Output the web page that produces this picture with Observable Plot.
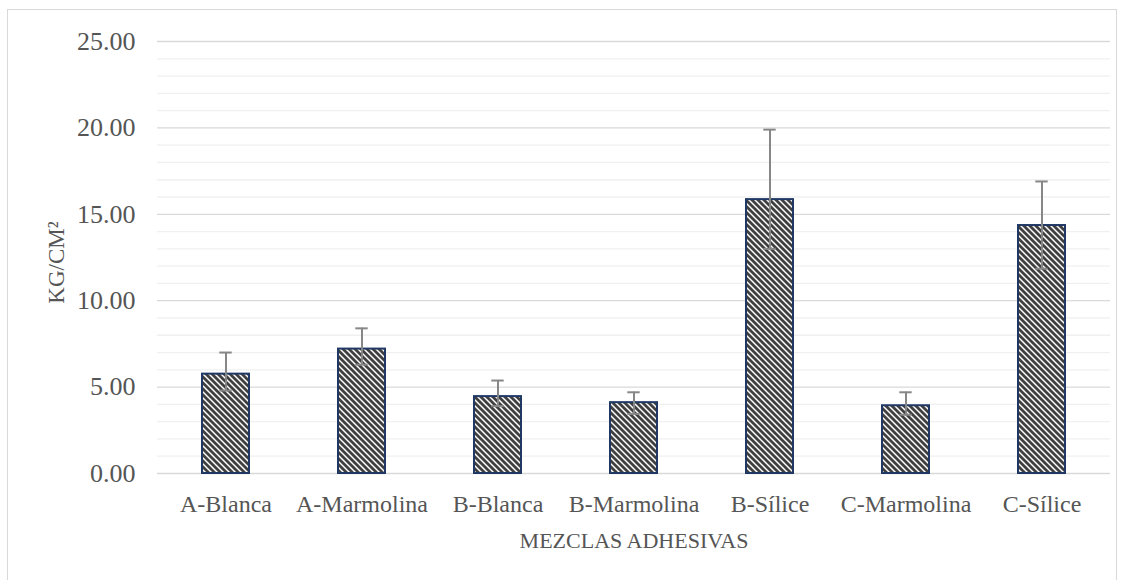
<!DOCTYPE html>
<html>
<head>
<meta charset="utf-8">
<script src="https://cdn.jsdelivr.net/npm/d3@7"></script>
<script src="https://cdn.jsdelivr.net/npm/@observablehq/plot@0.6"></script>
<style>
  html, body { margin: 0; padding: 0; background: #fff; overflow: hidden; }
  #wrap { position: relative; width: 1125px; height: 580px; }
  #border { position: absolute; left: 7px; top: 9px; width: 1110px; height: 600px; border: 1.5px solid #d9d9d9; box-sizing: border-box; pointer-events: none; }
  #chart { position: absolute; left: 0; top: 0; }
</style>
</head>
<body>
<div id="wrap"><div id="border"></div><div id="chart"></div></div>
<script>
const categories = ["A-Blanca", "A-Marmolina", "B-Blanca", "B-Marmolina", "B-Sílice", "C-Marmolina", "C-Sílice"];
const means = [5.75, 7.2, 4.45, 4.1, 15.85, 3.92, 14.35];
const lows  = [4.8, 6.3, 3.9, 3.45, 13.0, 3.4, 11.85];
const highs = [7.0, 8.4, 5.38, 4.7, 19.9, 4.7, 16.9];
const yTicks = [0, 5, 10, 15, 20, 25];
const yMinor = [1, 2, 3, 4, 6, 7, 8, 9, 11, 12, 13, 14, 16, 17, 18, 19, 21, 22, 23, 24];
const xTitle = "MEZCLAS ADHESIVAS";
const yTitle = "KG/CM²";

const data = categories.map((c, i) => ({cat: c, value: means[i], low: lows[i], high: highs[i]}));

const NS = "http://www.w3.org/2000/svg";
function defsMark() {
  const g = document.createElementNS(NS, "g");
  const defs = document.createElementNS(NS, "defs");
  const pat = document.createElementNS(NS, "pattern");
  pat.setAttribute("id", "diag");
  pat.setAttribute("patternUnits", "userSpaceOnUse");
  pat.setAttribute("width", "6");
  pat.setAttribute("height", "6");
  const bg = document.createElementNS(NS, "rect");
  bg.setAttribute("width", "6"); bg.setAttribute("height", "6"); bg.setAttribute("fill", "#fff");
  pat.appendChild(bg);
  const p = document.createElementNS(NS, "path");
  p.setAttribute("d", "M-3,-3 L9,9 M-9,-3 L3,9 M3,-3 L15,9");
  p.setAttribute("stroke", "#404040");
  p.setAttribute("stroke-width", "2.8");
  pat.appendChild(p);
  defs.appendChild(pat);
  g.appendChild(defs);
  return g;
}

const font = "'Liberation Serif', 'Times New Roman', serif";

const chart = Plot.plot({
  width: 1125,
  height: 580,
  marginLeft: 157,
  marginRight: 15,
  marginTop: 41,
  marginBottom: 107,
  style: {fontFamily: font, fontSize: "24px", color: "#555555", background: "transparent"},
  x: {domain: categories, paddingInner: 0.657, paddingOuter: 0.3285, label: null},
  y: {domain: [0, 25], label: null},
  marks: [
    defsMark,
    Plot.ruleY(yMinor, {stroke: "#f0f0f0", strokeWidth: 1.3}),
    Plot.ruleY(yTicks, {stroke: "#d9d9d9", strokeWidth: 1.3}),
    Plot.axisY({ticks: yTicks, tickFormat: d => d.toFixed(2), tickSize: 0, tickPadding: 22, label: null, fontSize: 26}),
    Plot.axisX({tickSize: 0, tickPadding: 21, label: null, fontSize: 24}),
    Plot.barY(data, {x: "cat", y: "value", fill: "url(#diag)", stroke: "#1f3864", strokeWidth: 2}),
    Plot.ruleX(data, {x: "cat", y1: "low", y2: "high", stroke: "#878787", strokeWidth: 2}),
    Plot.tickY(data, {x: "cat", y: "high", stroke: "#878787", strokeWidth: 2, insetLeft: 17.3, insetRight: 17.3}),
    Plot.tickY(data, {x: "cat", y: "low", stroke: "#878787", strokeWidth: 2, insetLeft: 17.3, insetRight: 17.3}),
    Plot.text([xTitle], {text: d => d, frameAnchor: "bottom", dy: 67, lineAnchor: "middle", fill: "#555555", fontSize: 22}),
    Plot.text([yTitle], {text: d => d, frameAnchor: "left", dx: -101, dy: 5, rotate: -90, textAnchor: "middle", lineAnchor: "middle", fill: "#555555", fontSize: 23})
  ]
});
document.getElementById("chart").appendChild(chart);
</script>
</body>
</html>
